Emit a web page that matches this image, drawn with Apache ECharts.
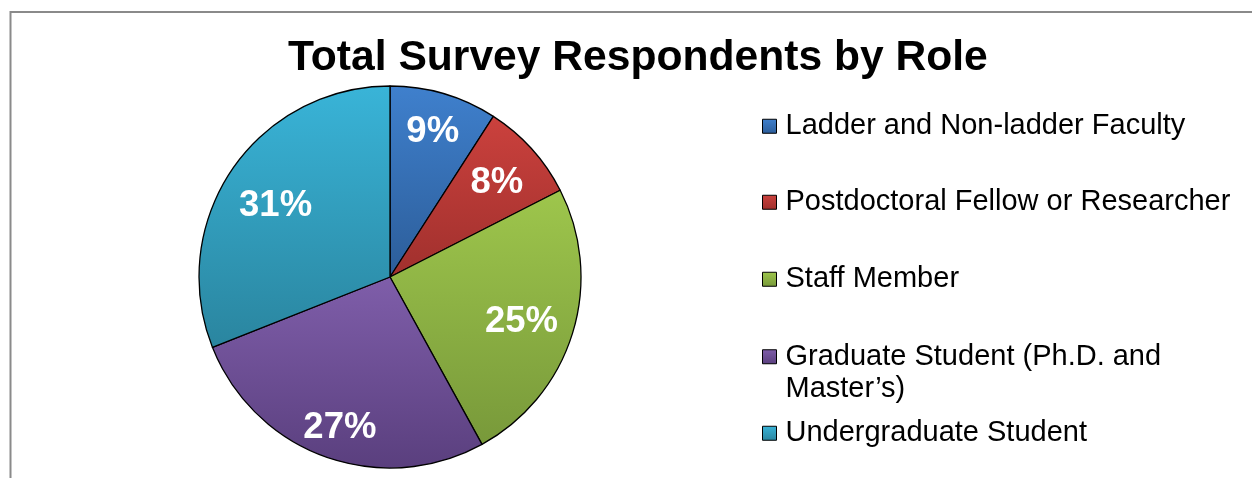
<!DOCTYPE html>
<html>
<head>
<meta charset="utf-8">
<script src="https://cdn.jsdelivr.net/npm/echarts@6/dist/echarts.min.js"></script>
<style>
  html, body { margin: 0; padding: 0; background: #ffffff; }
  #chart { width: 1252px; height: 478px; }
</style>
</head>
<body>
<div id="chart"></div>
<script>
// ---- data ----
const chartTitle = 'Total Survey Respondents by Role';
const categories = [
  'Ladder and Non-ladder Faculty',
  'Postdoctoral Fellow or Researcher',
  'Staff Member',
  'Graduate Student (Ph.D. and Master\u2019s)',
  'Undergraduate Student'
];
const legendLabels = [
  'Ladder and Non-ladder Faculty',
  'Postdoctoral Fellow or Researcher',
  'Staff Member',
  '\nGraduate Student (Ph.D. and\nMaster\u2019s)',
  'Undergraduate Student'
];
const shares = [9.1, 8.4, 24.5, 27.0, 31.0];

// ---- style ----
const topColors = ['#3f80cd', '#cb413d', '#9ec64c', '#7f5eaa', '#39b4d8'];
const bottomColors = ['#2c5d99', '#a0302d', '#78993a', '#5a3f7e', '#2a859f'];
const legendTops = [110, 186, 263, 308, 417];
const labelNudges = [[1, -3], [-3, 5], [-10, 1], [0, 12], [8, 12]];
const FONT = '"Liberation Sans", Arial, Helvetica, sans-serif';

function grad(i) {
  return new echarts.graphic.LinearGradient(0, 0, 0, 1, [
    { offset: 0, color: topColors[i] },
    { offset: 1, color: bottomColors[i] }
  ]);
}

const pieData = categories.map((name, i) => ({
  name: name,
  value: shares[i],
  itemStyle: { color: grad(i) }
}));

const legends = categories.map((name, i) => ({
  data: [name],
  orient: 'vertical',
  left: 762,
  top: legendTops[i],
  padding: 0,
  icon: 'rect',
  itemWidth: 14,
  itemHeight: 14,
  itemStyle: { borderColor: '#000', borderWidth: 1 },
  selectedMode: false,
  formatter: () => legendLabels[i],
  textStyle: {
    fontFamily: FONT,
    fontSize: 29,
    color: '#000',
    lineHeight: 32.5,
    padding: [0, 0, 0, 4]
  }
}));

const chart = echarts.init(document.getElementById('chart'));
chart.setOption({
  backgroundColor: '#ffffff',
  animation: false,
  title: {
    text: chartTitle,
    left: 288,
    top: 37,
    padding: 0,
    textStyle: { fontFamily: FONT, fontSize: 42.6, fontWeight: 'bold', color: '#000' }
  },
  legend: legends,
  graphic: [{
    type: 'rect',
    shape: { x: 10.5, y: 12, width: 1300, height: 600 },
    style: { fill: null, stroke: '#8a8a8a', lineWidth: 2 },
    silent: true
  }],
  series: [
    {
      type: 'pie',
      center: [390, 277],
      radius: 191,
      startAngle: 90,
      clockwise: true,
      data: pieData,
      label: { show: false },
      labelLine: { show: false },
      itemStyle: { borderColor: '#000', borderWidth: 1.3 },
      emphasis: { disabled: true }
    },
    {
      type: 'pie',
      center: [390, 277],
      radius: [99, 191],
      startAngle: 90,
      clockwise: true,
      silent: true,
      data: categories.map((name, i) => ({
        name: name,
        value: shares[i],
        label: { offset: labelNudges[i] }
      })),
      itemStyle: { color: 'rgba(0,0,0,0)', borderWidth: 0 },
      label: {
        show: true,
        position: 'inside',
        formatter: p => Math.round(p.value) + '%',
        fontFamily: FONT,
        fontSize: 36.5,
        fontWeight: 'bold',
        color: '#ffffff'
      },
      labelLine: { show: false },
      emphasis: { disabled: true }
    }
  ]
});
</script>
</body>
</html>
